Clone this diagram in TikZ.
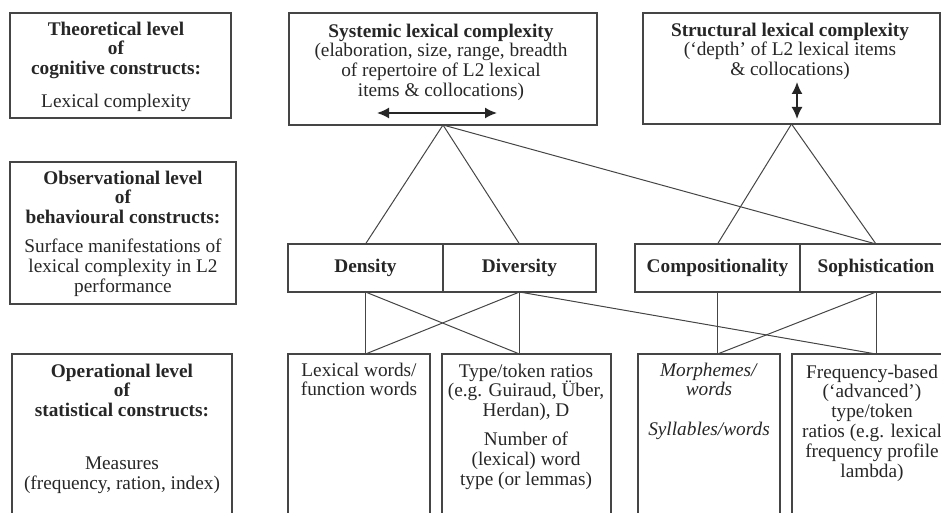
\documentclass[tikz,border=0pt]{standalone}
\usepackage{fontspec}
\setmainfont{Liberation Serif}
\usetikzlibrary{arrows.meta}
\definecolor{ink}{HTML}{454545}
\definecolor{lettering}{HTML}{262626}

\tikzset{
  box/.style={draw=ink,line width=1.2pt,rectangle,inner sep=0pt,outer sep=0pt,anchor=north west},
  txt/.style={align=center,inner sep=0pt,anchor=north,text=lettering,font=\fontsize{19.3}{19.8}\selectfont},
  link/.style={draw=ink,line width=1pt},
  twohead/.style={draw=lettering,line width=1.7pt,{Latex[length=12pt,width=11pt]}-{Latex[length=12pt,width=11pt]}}
}

\begin{document}
\begin{tikzpicture}[x=1pt,y=-1pt]
\useasboundingbox (0,0) rectangle (941,513);
\clip (0,0) rectangle (941,513);
% Left column: the three levels
\node[box,minimum width=221,minimum height=105] (theo) at (10,13) {};
\node[txt] (theotxt) at (116,21.5) {\textbf{Theoretical level}\\\textbf{of}\\\textbf{cognitive constructs:}\\[13pt]Lexical complexity};
\node[box,minimum width=226,minimum height=142] (obs) at (10,162) {};
\node[txt] (obstxt) at (123,170.5) {\textbf{Observational level}\\\textbf{of}\\\textbf{behavioural constructs:}\\[9pt]Surface manifestations of\\lexical complexity in L2\\performance};
\node[box,minimum width=220,minimum height=180] (oper) at (12,354) {};
\node[txt] (opertxt) at (122,363.5) {\textbf{Operational level}\\\textbf{of}\\\textbf{statistical constructs:}\\[33pt]Measures\\(frequency, ration, index)};
% Row 1: lexical complexity
\node[box,minimum width=308,minimum height=112] (sys) at (289,13) {};
\node[txt] (systxt) at (441,23.5) {\textbf{Systemic lexical complexity}\\(elaboration, size, range, breadth\\of repertoire of L2 lexical\\items \& collocations)};
\coordinate (sysl) at (377,113);
\coordinate (sysr) at (497,113);
\draw[twohead] (sysl) -- (sysr);
\node[box,minimum width=297,minimum height=111] (str) at (643,13) {};
\node[txt] (strtxt) at (790,22.5) {\textbf{Structural lexical complexity}\\(‘depth’ of L2 lexical items\\\& collocations)};
\coordinate (strt) at (797,82);
\coordinate (strb) at (797,119);
\draw[twohead] (strt) -- (strb);
% Row 2: density, diversity, compositionality, sophistication
\node[box,minimum width=155,minimum height=48] (dens) at (288,244) {};
\node[box,minimum width=153,minimum height=48] (div) at (443,244) {};
\node[box,minimum width=165,minimum height=48] (comp) at (635,244) {};
\node[box,minimum width=152,minimum height=48] (soph) at (800,244) {};
\node[txt,anchor=center] at (dens.center) {\textbf{Density}};
\node[txt,anchor=center] at (div.center) {\textbf{Diversity}};
\node[txt,anchor=center] at (comp.center) {\textbf{Compositionality}};
\node[txt,anchor=center] at (soph.center) {\textbf{Sophistication}};
% Row 3: measures
\node[box,minimum width=142,minimum height=180] (lex) at (288,354) {};
\node[txt] (lextxt) at (359,362.5) {Lexical words/\\function words};
\node[box,minimum width=169,minimum height=180] (typ) at (442,354) {};
\node[txt] (typtxt) at (526,363.5) {Type/token ratios\\(e.g. Guiraud, Über,\\Herdan), D\\[9pt]Number of\\(lexical) word\\type (or lemmas)};
\node[box,minimum width=142,minimum height=180] (mor) at (638,354) {};
\node[txt] (mortxt) at (709,362.5) {\textit{Morphemes/}\\\textit{words}\\[20pt]\textit{Syllables/words}};
\node[box,minimum width=160,minimum height=180] (fre) at (792,354) {};
\node[txt] (fretxt) at (872,364.5) {Frequency-based\\(‘advanced’)\\type/token\\ratios (e.g. lexical\\frequency profile\\lambda)};
% links between the levels
\draw[link] (sys.south) -- (dens.north);
\draw[link] (sys.south) -- (div.north);
\draw[link] (sys.south) -- (soph.north);
\draw[link] (str.south) -- (comp.north);
\draw[link] (str.south) -- (soph.north);
\draw[link] (dens.south) -- (dens.south |- lex.north);
\draw[link] (dens.south) -- (div.south |- typ.north);
\draw[link] (div.south) -- (dens.south |- lex.north);
\draw[link] (div.south) -- (div.south |- typ.north);
\draw[link] (div.south) -- (soph.south |- fre.north);
\draw[link] (comp.south) -- (comp.south |- mor.north);
\draw[link] (soph.south) -- (comp.south |- mor.north);
\draw[link] (soph.south) -- (soph.south |- fre.north);
\end{tikzpicture}
\end{document}
